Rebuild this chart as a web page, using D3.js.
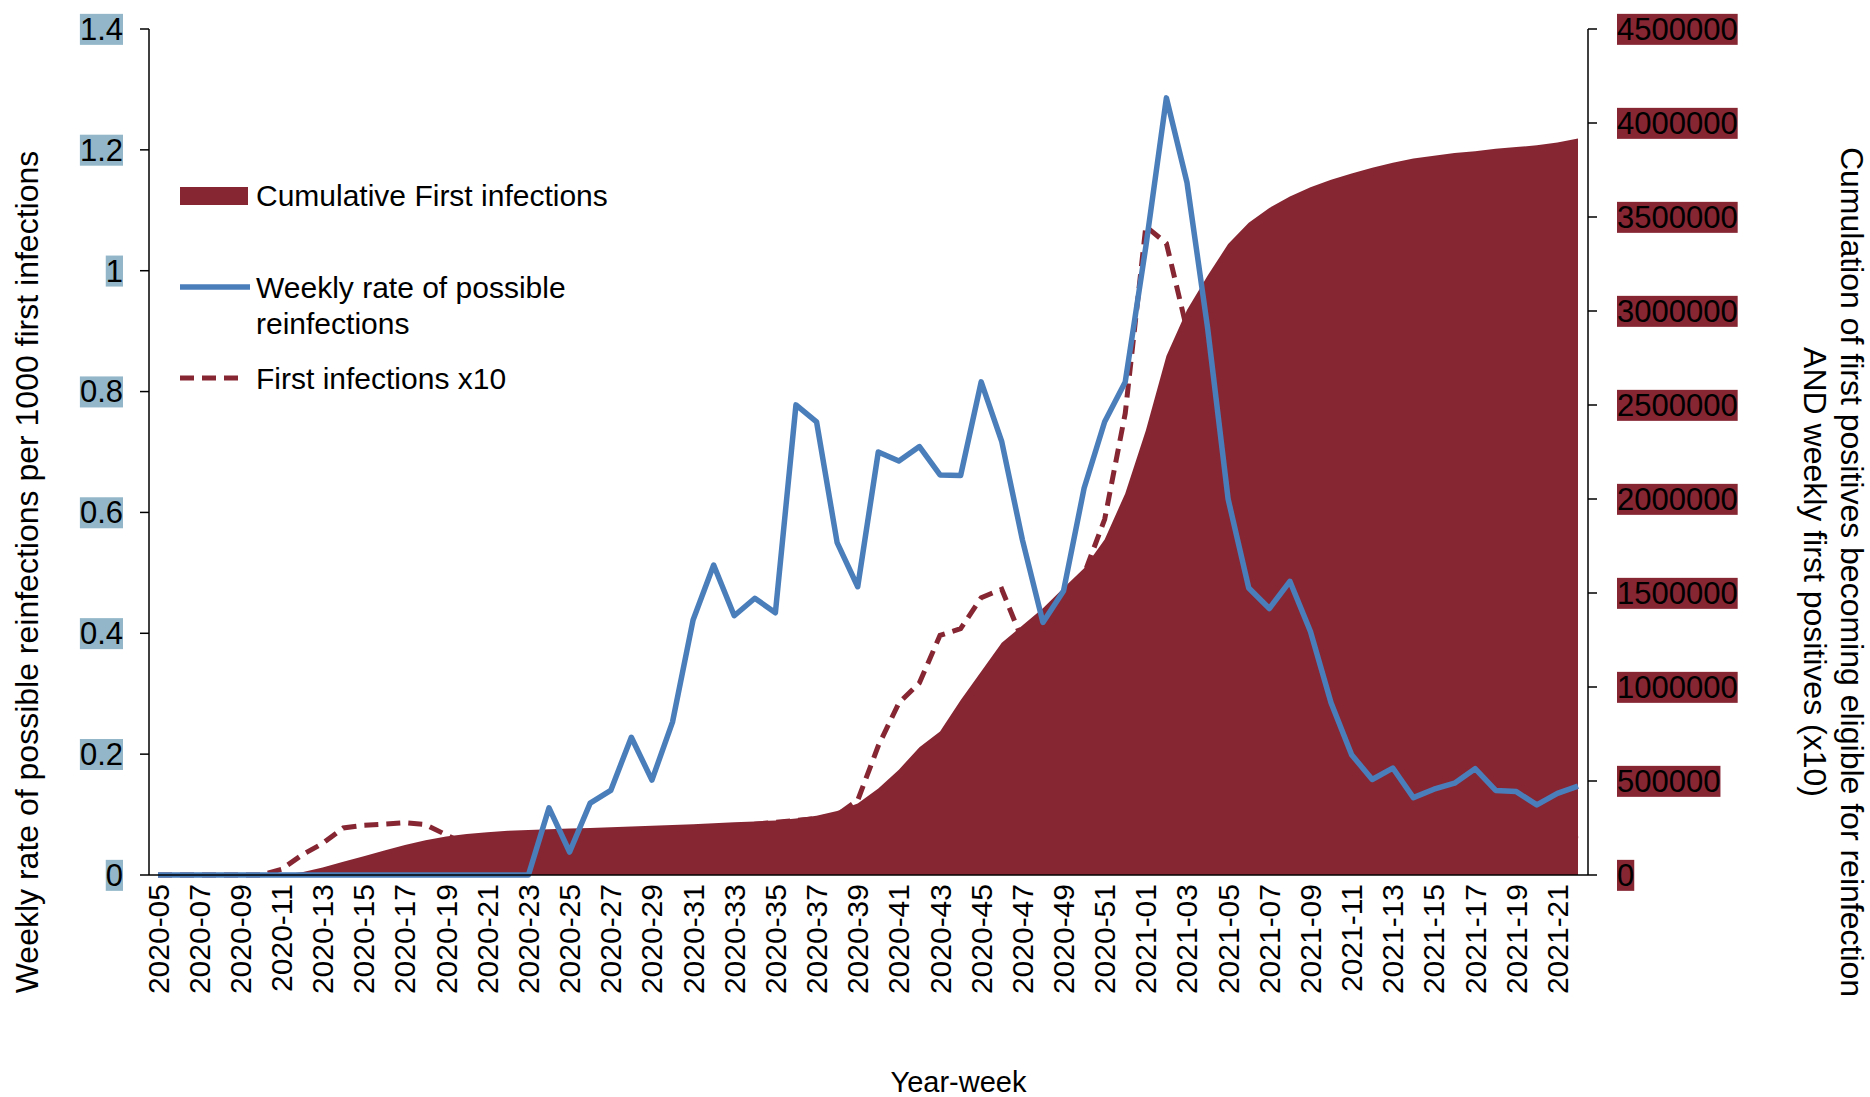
<!DOCTYPE html><html><head><meta charset="utf-8">
<script src="https://cdn.jsdelivr.net/npm/d3@7"></script>
<style>body{margin:0;background:#fff}text{font-family:"Liberation Sans",Arial,sans-serif}</style></head><body>
<svg id="c" width="1870" height="1097"></svg>
<script>
const weeks=[];for(let w=5;w<=52;w++)weeks.push("2020-"+String(w).padStart(2,"0"));for(let w=1;w<=22;w++)weeks.push("2021-"+String(w).padStart(2,"0"));
const reinfRate=[0,0,0,0,0,0,0,0,0,0,0,0,0,0,0,0,0,0,0,0.111,0.038,0.119,0.14,0.228,0.157,0.253,0.422,0.513,0.429,0.458,0.434,0.778,0.75,0.55,0.477,0.70,0.685,0.709,0.662,0.661,0.816,0.717,0.555,0.418,0.47,0.64,0.75,0.816,1.04,1.286,1.146,0.906,0.622,0.475,0.441,0.486,0.403,0.285,0.199,0.158,0.177,0.128,0.142,0.152,0.176,0.14,0.138,0.116,0.135,0.147];
const firstX10=[0,0,0,0,0,0,30000,107000,168000,250000,265000,271000,278000,268000,214000,160000,150000,150000,160000,170000,180000,190000,200000,210000,220000,230000,240000,250000,260000,270000,280000,290000,300000,320000,397000,687000,915000,1022000,1275000,1310000,1475000,1520000,1250000,1350000,1450000,1600000,1892000,2456000,3450000,3360000,2900000,2500000,2000000,1500000,1200000,1000000,800000,600000,450000,380000,340000,310000,290000,270000,255000,240000,230000,220000,205000,192000];
const cumFirst=[0,0,0,0,0,0,2000,15000,40000,70000,100000,130000,160000,185000,205000,218000,228000,235000,240000,244000,247000,250000,254000,258000,262000,266000,270000,275000,280000,285000,290000,300000,315000,340000,380000,460000,560000,680000,763000,930000,1083000,1236000,1327000,1419000,1526000,1632000,1785000,2029000,2365000,2761000,3005000,3188000,3356000,3469000,3548000,3609000,3658000,3698000,3731000,3762000,3789000,3811000,3826000,3841000,3850000,3863000,3872000,3881000,3896000,3917000];
const leftTicks=[0,0.2,0.4,0.6,0.8,1,1.2,1.4];
const rightTicks=[0,500000,1000000,1500000,2000000,2500000,3000000,3500000,4000000,4500000];
const svg=d3.select("#c");
const L=149,R=1588,T=29,B=875;
const x=d3.scaleLinear().domain([0,weeks.length-1]).range([158,1578]);
const yL=d3.scaleLinear().domain([0,1.4]).range([B,T]);
const yR=d3.scaleLinear().domain([0,4500000]).range([B,T]);
const idx=d3.range(weeks.length);
svg.append("path").attr("d",d3.line().x(i=>x(i)).y(i=>yR(firstX10[i]))(idx)).attr("fill","none").attr("stroke","#862633").attr("stroke-width",5).attr("stroke-dasharray","14,8");
svg.append("path").attr("d",d3.area().x(i=>x(i)).y0(B).y1(i=>yR(cumFirst[i]))(idx)).attr("fill","#862633");
svg.append("path").attr("d",d3.line().x(i=>x(i)).y(i=>yL(reinfRate[i]))(idx)).attr("fill","none").attr("stroke","#4a7ebb").attr("stroke-width",5.5).attr("stroke-linejoin","round");
const ga=svg.append("g").attr("stroke","#000").attr("stroke-width",1.5);
ga.append("line").attr("x1",L).attr("x2",L).attr("y1",T).attr("y2",B);
ga.append("line").attr("x1",R).attr("x2",R).attr("y1",T).attr("y2",B);
ga.append("line").attr("x1",L).attr("x2",R).attr("y1",B).attr("y2",B);
function lab(g,t,xx,anchor,bg){
  const tx=g.append("text").attr("x",xx).attr("y",0).attr("dy","0.35em").attr("text-anchor",anchor).attr("font-size",31).text(t);
  const bb=tx.node().getBBox();
  g.insert("rect","text").attr("x",bb.x).attr("y",bb.y+2).attr("width",bb.width).attr("height",bb.height-4).attr("fill",bg);
}
leftTicks.forEach(v=>{const g=svg.append("g").attr("transform",`translate(0,${yL(v)})`);
  g.append("line").attr("x1",L-9).attr("x2",L).attr("stroke","#000").attr("stroke-width",1.5);
  lab(g,String(v),123,"end","#93b7c9");});
rightTicks.forEach(v=>{const g=svg.append("g").attr("transform",`translate(0,${yR(v)})`);
  g.append("line").attr("x1",R).attr("x2",R+9).attr("stroke","#000").attr("stroke-width",1.5);
  lab(g,String(v),1617,"start","#862633");});
weeks.forEach((w,i)=>{if(i%2)return;
  svg.append("text").attr("transform",`translate(${x(i)},${B+9}) rotate(-90)`).attr("text-anchor","end").attr("dy","0.35em").attr("font-size",30).text(w);});
svg.append("text").attr("x",(L+R)/2+90).attr("y",1092).attr("text-anchor","middle").attr("font-size",29).text("Year-week");
svg.append("text").attr("transform","translate(27,572) rotate(-90)").attr("text-anchor","middle").attr("dy","0.35em").attr("font-size",32).text("Weekly rate of  possible  reinfections per 1000 first infections");
svg.append("text").attr("transform","translate(1852,572) rotate(90)").attr("text-anchor","middle").attr("dy","0.35em").attr("font-size",32).text("Cumulation of first positives becoming eligible for reinfection");
svg.append("text").attr("transform","translate(1815,572) rotate(90)").attr("text-anchor","middle").attr("dy","0.35em").attr("font-size",32).text("AND weekly first positives (x10)");
svg.append("rect").attr("x",180).attr("y",187).attr("width",68).attr("height",18).attr("fill","#862633");
svg.append("text").attr("x",256).attr("y",206).attr("font-size",30).text("Cumulative First infections");
svg.append("line").attr("x1",180).attr("x2",250).attr("y1",287).attr("y2",287).attr("stroke","#4a7ebb").attr("stroke-width",5.5);
svg.append("text").attr("x",256).attr("y",298).attr("font-size",30).text("Weekly rate of possible");
svg.append("text").attr("x",256).attr("y",334).attr("font-size",30).text("reinfections");
svg.append("line").attr("x1",180).attr("x2",245).attr("y1",378).attr("y2",378).attr("stroke","#862633").attr("stroke-width",5).attr("stroke-dasharray","14,8");
svg.append("text").attr("x",256).attr("y",389).attr("font-size",30).text("First infections x10");
</script></body></html>
